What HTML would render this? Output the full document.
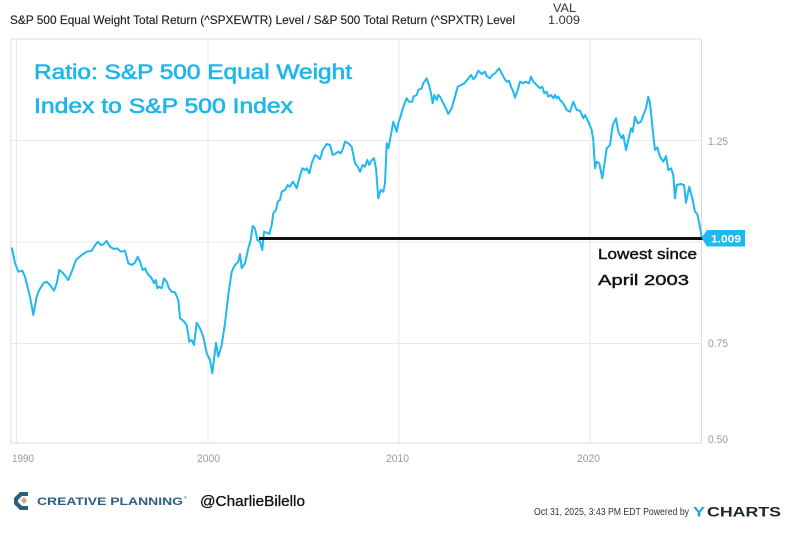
<!DOCTYPE html>
<html>
<head>
<meta charset="utf-8">
<style>
  html, body { margin:0; padding:0; background:#fff; }
  body { width:791px; height:540px; overflow:hidden; }
  svg { display:block; }
</style>
</head>
<body>
<svg width="791" height="540" viewBox="0 0 791 540" xmlns="http://www.w3.org/2000/svg" font-family="Liberation Sans, sans-serif">
  <!-- header -->
  <text x="553" y="12" font-size="11.5" fill="#333" textLength="23" lengthAdjust="spacingAndGlyphs">VAL</text>
  <text x="10" y="24" font-size="12" fill="#222" stroke="#222" stroke-width="0.15" textLength="505" lengthAdjust="spacingAndGlyphs">S&amp;P 500 Equal Weight Total Return (^SPXEWTR) Level / S&amp;P 500 Total Return (^SPXTR) Level</text>
  <text x="548" y="24" font-size="12" fill="#333" textLength="32" lengthAdjust="spacingAndGlyphs">1.009</text>

  <!-- gridlines -->
  <g stroke="#e9e9e9" stroke-width="1">
    <line x1="11" y1="140.5" x2="701.5" y2="140.5"/>
    <line x1="11" y1="242" x2="701.5" y2="242"/>
    <line x1="11" y1="343.5" x2="701.5" y2="343.5"/>
    <line x1="16.5" y1="39" x2="16.5" y2="443"/>
    <line x1="208" y1="39" x2="208" y2="443"/>
    <line x1="399" y1="39" x2="399" y2="443"/>
    <line x1="590" y1="39" x2="590" y2="443"/>
  </g>
  <rect x="11" y="39" width="690.5" height="404" fill="none" stroke="#dcdcdc" stroke-width="1"/>

  <!-- y labels -->
  <g font-size="11" fill="#999">
    <text x="708" y="145" textLength="20" lengthAdjust="spacingAndGlyphs">1.25</text>
    <text x="708" y="347" textLength="20" lengthAdjust="spacingAndGlyphs">0.75</text>
    <text x="708" y="443" textLength="20" lengthAdjust="spacingAndGlyphs">0.50</text>
  </g>
  <!-- x labels -->
  <g font-size="11" fill="#999">
    <text x="12" y="462" textLength="22" lengthAdjust="spacingAndGlyphs">1990</text>
    <text x="197" y="462" textLength="23" lengthAdjust="spacingAndGlyphs">2000</text>
    <text x="386" y="462" textLength="23" lengthAdjust="spacingAndGlyphs">2010</text>
    <text x="577" y="462" textLength="23" lengthAdjust="spacingAndGlyphs">2020</text>
  </g>

  <!-- annotation title -->
  <g fill="#1db5ec" stroke="#1db5ec" stroke-width="0.6" font-size="21">
    <text x="34" y="79" textLength="318" lengthAdjust="spacingAndGlyphs">Ratio: S&amp;P 500 Equal Weight</text>
    <text x="34" y="113" textLength="259" lengthAdjust="spacingAndGlyphs">Index to S&amp;P 500 Index</text>
  </g>

  <!-- data series -->
  <polyline fill="none" stroke="#1fb8ef" stroke-width="2" stroke-linejoin="round" stroke-linecap="round"
   points="12,248.3 15,263 18.3,271.7 22.3,270.7 25,276.7 30,296.7 33.3,315 36.7,296.7 39.3,290 43.3,283.3 46.7,281.7 50,285 54,290.7 56.7,283.3 59.3,270 63.3,273.3 68.3,280 71.7,271.7 76,260 81.7,255 86.7,251.7 91.7,250.7 94,246.7 97.7,241.7 101,245 103.3,244.3 106.7,241 110,246.7 114,249 117.3,248.3 120.7,251.7 125,250.7 128.3,263.3 131.7,265 135,262.7 137.7,256.7 140,261.7 142.7,270 145,268.3 147.3,273.3 151.7,278.3 154,283.3 155.7,280 157.3,288.3 159.3,286.7 161.7,288.3 164,278.3 166.7,281.7 169,288.3 171.7,291.7 175,292.3 178.3,300 180,318.3 183.3,320.7 186.7,325 189.3,341.7 191.7,340 194,345 196.7,322.7 200,328.3 203.3,336.7 206.7,353.3 210,360 212.3,373.3 216,342.7 218.3,356.7 221.7,345 225,323.3 228.3,295 231.7,271.7 235,265 238.3,261.7 240,254 241.7,268.3 245,263.3 248.3,248.3 250.7,240 252.7,226 255,228.3 257.3,240 260,241.7 262.3,250 264,231.7 266.7,232.7 269.3,234 271.7,225 273.3,213.3 276,210 277.7,201.7 280,200 281.7,191.7 285,190 287.7,185 290,186.7 292.7,181.7 295,185 296.7,188.3 299.3,178.3 302.3,168.3 305,170 306.7,168.3 309.3,173.3 311.7,163.3 315,155 317.7,156.7 320,159.3 322.7,150 326.7,144 330,145 332.7,155 336,153.3 338.3,151.7 340.7,153.3 342.7,149.3 345,141.7 348.3,143.3 351.7,146.7 355,163.3 357.7,166.7 360,171.7 362.7,165 365,166.7 367.3,160 369.3,165 371.7,160 374,158.3 376,168.3 378.3,198.3 380.7,190 383.3,191.7 385,183.3 386.7,143.3 388.3,148.3 390,140 393.3,121.7 396.7,131.7 398.3,123.3 400,118.3 403.3,106.7 406.7,98.3 409,101.7 412.3,101.7 413.3,96.7 416.7,95 418.3,90 421.7,88.3 423.3,83.3 426.7,78.3 429,85 431,93.3 432.7,103.3 434.3,95 436.7,100 438.3,95 440,96.7 443.3,103.3 446.7,110 448.3,114 451.7,108.3 455,96.7 457.7,86.7 461,85 464.3,83.3 467.7,79.3 471,75 473.3,79.3 475.7,76.7 478.3,70.7 481.7,74 485,71.7 486.7,76 490,78.3 492.3,75 495.7,72.7 499,68.3 501.7,73.3 504.3,78.3 506.7,81.7 509,80.7 511,86.7 513.3,91.7 515,97.7 517.7,90 520,81.7 523.3,83.3 525.7,81.7 529,83.3 531,76.7 533.3,81.7 536.7,85 540,88.3 542.3,86.7 544.3,93.3 546.7,91.7 548.3,96.7 551,95 553.3,98.3 555,95 556.7,98.3 558.3,96.7 560,100 563.3,103.3 566.7,110 570,111.7 573.3,101.7 576.7,110 580,110.7 583.3,118.3 585,115 588.3,121.7 591.7,130 593.3,140 595,168.3 596.7,161.7 599.3,163.3 602.3,178.3 605,160 606.7,148.3 610,145 612.7,125 616,118.3 618.3,131.7 621.7,138.3 623.3,135 626,150 628.3,140 631,128.3 632.7,131.7 635,116.7 637.7,123.3 641,121.7 643.3,115 646,108.3 648.3,96.7 650,103.3 652.7,130 655,150 657.3,147.3 660,156.7 663.3,161.7 666,156 668.3,170 671,168.3 673.3,175 675,198.3 676.7,185 680.7,184 684,185 686,202.7 689.3,186.7 692.7,200 695,211.7 697.3,214 699.3,223.3 701.7,237"/>

  <!-- black horizontal line -->
  <line x1="259" y1="238.5" x2="703" y2="238.5" stroke="#111" stroke-width="3"/>

  <!-- value tag -->
  <polygon points="701.5,238 707,230 745,230 745,246.5 707,246.5" fill="#1fb8ef"/>
  <text x="711" y="242.5" font-size="11" font-weight="bold" fill="#fff" textLength="30" lengthAdjust="spacingAndGlyphs">1.009</text>

  <!-- annotation -->
  <g fill="#111" stroke="#111" stroke-width="0.4" font-size="15">
    <text x="598" y="259" textLength="99" lengthAdjust="spacingAndGlyphs">Lowest since</text>
    <text x="598" y="285" textLength="91" lengthAdjust="spacingAndGlyphs">April 2003</text>
  </g>

  <!-- footer left: logo -->
  <path d="M28,492 L20,492 L14,498 L14,504 L20,510 L28,510 L28,506 L22,506 L18,502 L18,500 L22,496 L28,496 Z" fill="#2b5f7c"/>
  <polygon points="24,497 27,500.5 24,504 21,500.5" fill="#c9a97a"/>
  <text x="37" y="505" font-size="11" font-weight="bold" fill="#2c5f7f" textLength="146" lengthAdjust="spacingAndGlyphs">CREATIVE PLANNING</text>
  <text x="184" y="499" font-size="4" fill="#2c5f7f">®</text>
  <text x="200" y="506" font-size="15" fill="#111" stroke="#111" stroke-width="0.3" textLength="105" lengthAdjust="spacingAndGlyphs">@CharlieBilello</text>

  <!-- footer right -->
  <text x="534" y="515" font-size="10.5" fill="#333" textLength="155" lengthAdjust="spacingAndGlyphs">Oct 31, 2025, 3:43 PM EDT Powered by</text>
  <text x="693" y="516.5" font-size="13.5" font-weight="bold" fill="#1e9fe3" textLength="12" lengthAdjust="spacingAndGlyphs">Y</text>
  <text x="707" y="516.5" font-size="13.5" font-weight="bold" fill="#1c2733" textLength="74" lengthAdjust="spacingAndGlyphs">CHARTS</text>
</svg>
</body>
</html>
